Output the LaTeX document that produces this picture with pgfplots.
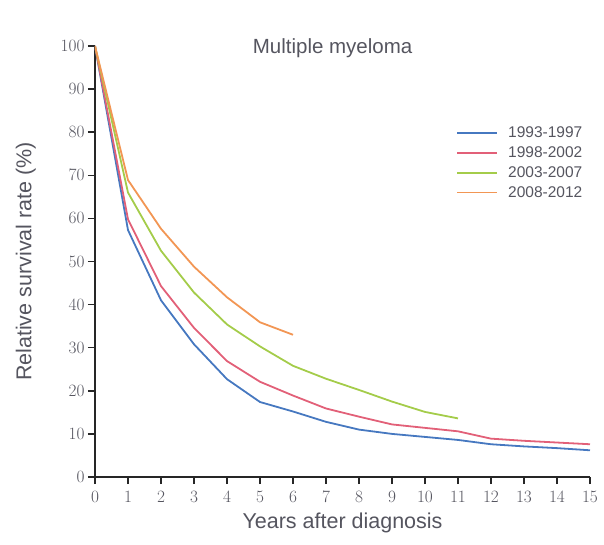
\documentclass[border=0pt]{standalone}
\usepackage{fontspec}
\setmainfont{Liberation Sans}
\usepackage{pgfplots}
\pgfplotsset{compat=1.18}

\definecolor{cblue}{RGB}{70,120,192}
\definecolor{cred}{RGB}{226,96,120}
\definecolor{cgreen}{RGB}{164,204,74}
\definecolor{corange}{RGB}{242,150,84}
\definecolor{txt}{RGB}{85,85,95}

\begin{document}
\begin{tikzpicture}
\path (-95pt,-67pt) rectangle (509pt,477pt);
\begin{axis}[
  at={(0pt,0pt)}, anchor=south west,
  scale only axis,
  width=495pt, height=431pt,
  xmin=0, xmax=15, ymin=0, ymax=100,
  axis x line=bottom, axis y line=left,
  axis line style={line width=1.4pt, black!85, -},
  xtick={0,...,15}, ytick={0,10,...,100},
  tick align=outside,
  major tick length=7pt,
  tick style={black!85, line width=1.5pt},
  tick label style={font=\fontsize{17.5}{19}\selectfont, text=txt},
  xticklabel style={yshift=-4pt},
  xlabel={Years after diagnosis},
  ylabel={Relative survival rate (\%)},
  label style={font=\fontsize{21.5}{24}\selectfont, text=txt},
  xlabel style={yshift=-3pt},
  ylabel style={yshift=18pt},
  title={Multiple myeloma},
  title style={font=\fontsize{20.5}{22}\selectfont, text=txt, at={(0.48,1)}, anchor=center, yshift=-8pt},
  legend style={draw=none, fill=none, at={(0.724,0.822)}, anchor=north west,
    font=\fontsize{15.5}{18}\selectfont, row sep=3.5pt,
    nodes={text=txt, inner xsep=10pt}},
  legend cell align=left,
  legend image code/.code={\draw[#1,line width=1.6pt] (0pt,0pt) -- (40pt,0pt);},
  every axis plot/.append style={line width=1.8pt},
]
\addplot[cblue] coordinates {
  (0,100) (1,57.3) (2,41) (3,30.8) (4,22.7) (5,17.4) (6,15.2) (7,12.8) (8,11.0)
  (9,10.0) (10,9.3) (11,8.6) (12,7.6) (13,7.1) (14,6.7) (15,6.2)
};
\addplot[cred] coordinates {
  (0,100) (1,59.8) (2,44.3) (3,34.6) (4,26.9) (5,22.1) (6,18.9) (7,15.9) (8,14.0)
  (9,12.2) (10,11.4) (11,10.6) (12,8.9) (13,8.4) (14,8.0) (15,7.6)
};
\addplot[cgreen] coordinates {
  (0,100) (1,66) (2,52.5) (3,42.8) (4,35.4) (5,30.3) (6,25.8) (7,22.8) (8,20.2)
  (9,17.5) (10,15.1) (11,13.6)
};
\addplot[corange] coordinates {
  (0,100) (1,68.9) (2,57.6) (3,48.8) (4,41.7) (5,35.9) (6,33.0)
};
\legend{1993-1997,1998-2002,2003-2007,2008-2012}
\end{axis}
\end{tikzpicture}
\end{document}
